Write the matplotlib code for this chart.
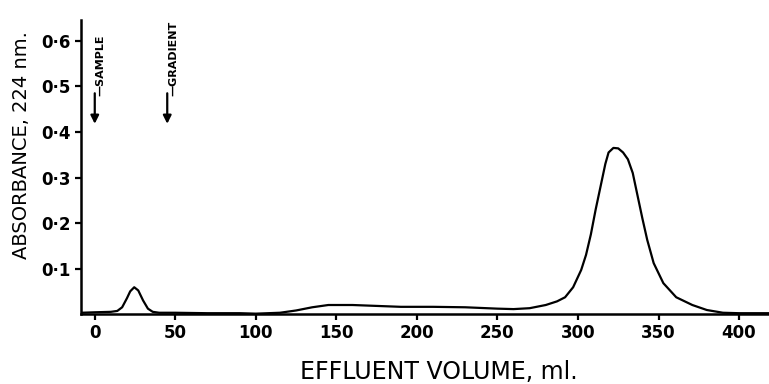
import matplotlib
matplotlib.use('Agg')
import matplotlib.pyplot as plt

# Elution profile
volume = [-8, 0, 10, 14, 17, 20, 22, 24.5, 27, 30, 33, 36, 40, 50, 70, 90, 100,
          115, 125, 135, 145, 160, 175, 190, 210, 230, 250, 260, 270, 280, 287,
          292, 297, 302, 305, 308, 311, 314, 317, 319, 322, 325, 328, 331, 334,
          337, 340, 343, 347, 353, 361, 371, 380, 390, 400, 419]
absorbance = [0.003, 0.004, 0.005, 0.007, 0.015, 0.035, 0.05, 0.059, 0.052, 0.03,
              0.012, 0.005, 0.003, 0.003, 0.002, 0.002, 0.001,
              0.003, 0.008, 0.015, 0.02, 0.02, 0.018, 0.016, 0.016, 0.015,
              0.012, 0.011, 0.013, 0.02, 0.028, 0.037, 0.059, 0.097, 0.13, 0.175,
              0.23, 0.28, 0.33, 0.355, 0.365, 0.364, 0.355, 0.34, 0.31, 0.26,
              0.21, 0.163, 0.112, 0.068, 0.037, 0.02, 0.009, 0.003, 0.002, 0.002]

x_ticks = [0, 50, 100, 150, 200, 250, 300, 350, 400]
x_labels = ['0', '50', '100', '150', '200', '250', '300', '350', '400']
y_ticks = [0.1, 0.2, 0.3, 0.4, 0.5, 0.6]
y_labels = ['0·1', '0·2', '0·3', '0·4', '0·5', '0·6']

# markers: (volume, label)
markers = [(0, 'SAMPLE'), (45, 'GRADIENT')]

fig = plt.figure(figsize=(7.69, 3.84), dpi=100)
ax = fig.add_axes([0.105, 0.182, 0.895, 0.766])

ax.plot(volume, absorbance, color='black', linewidth=1.6)

ax.set_xlim(-8.7, 418.6)
ax.set_ylim(0, 0.646)
ax.set_xticks(x_ticks)
ax.set_xticklabels(x_labels, fontsize=12, fontweight='bold')
ax.set_yticks(y_ticks)
ax.set_yticklabels(y_labels, fontsize=12, fontweight='bold')
ax.tick_params(direction='out', length=4, width=1.6, pad=3)

for side in ['top', 'right']:
    ax.spines[side].set_visible(False)
for side in ['left', 'bottom']:
    ax.spines[side].set_linewidth(1.8)

ax.set_xlabel('EFFLUENT VOLUME, ml.', fontsize=17)
ax.xaxis.set_label_coords(0.52, -0.155)
ax.xaxis.label.set_va('top')
ax.set_ylabel('ABSORBANCE, 224 nm.', fontsize=14)
ax.yaxis.set_label_coords(-0.072, 0.575)

for vol, label in markers:
    ax.annotate('', xy=(vol, 0.418), xytext=(vol, 0.485),
                arrowprops=dict(arrowstyle='-|>', color='black', lw=1.6,
                                mutation_scale=12, shrinkA=0, shrinkB=0))
    ax.text(vol + 3.5, 0.48, '\u2014' + label, rotation=90, ha='center', va='bottom',
            fontsize=8, fontweight='bold', clip_on=False)

fig.savefig('out.png', dpi=100)
